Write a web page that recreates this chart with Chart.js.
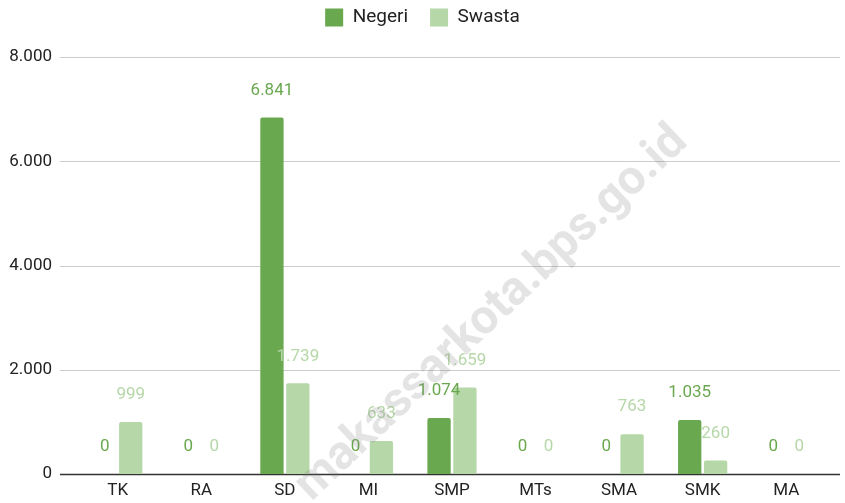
<!DOCTYPE html>
<html>
<head>
<meta charset="utf-8">
<script src="https://cdn.jsdelivr.net/npm/chart.js@4/dist/chart.umd.min.js"></script>
<style>
  html, body { margin: 0; padding: 0; background: #fff; }
  #wrap { width: 845px; height: 503px; position: relative; }
</style>
</head>
<body>
<div id="wrap"><canvas id="c"></canvas></div>
<script>
const categories = ['TK', 'RA', 'SD', 'MI', 'SMP', 'MTs', 'SMA', 'SMK', 'MA'];
const negeri = [0, 0, 6841, 0, 1074, 0, 0, 1035, 0];
const swasta = [999, 0, 1739, 633, 1659, 0, 763, 260, 0];
const seriesNames = ['Negeri', 'Swasta'];
const yTicks = [0, 2000, 4000, 6000, 8000];
const watermarkText = 'makassarkota.bps.go.id';

const FONT = 'Roboto, "Noto Sans", Arial, sans-serif';
const fmt = v => Math.round(v).toString().replace(/\B(?=(\d{3})+(?!\d))/g, '.');

const legendSpace = {
  id: 'legendSpace',
  beforeInit(chart) {
    const origFit = chart.legend.fit;
    chart.legend.fit = function () {
      origFit.bind(chart.legend)();
      this.height += 20;
    };
  },
  afterLayout(chart) {
    chart.legend.left += 8.5;
    chart.legend.right += 8.5;
  }
};

const gridPlugin = {
  id: 'extGrid',
  beforeDatasetsDraw(chart) {
    const ctx = chart.ctx, y = chart.scales.y;
    ctx.save();
    yTicks.forEach(v => {
      const py = Math.round(y.getPixelForValue(v)) + 0.5;
      ctx.beginPath();
      ctx.moveTo(60, py);
      ctx.lineTo(840, py);
      if (v === 0) { ctx.strokeStyle = '#333333'; ctx.lineWidth = 1.5; }
      else { ctx.strokeStyle = '#cccccc'; ctx.lineWidth = 1; }
      ctx.stroke();
    });
    ctx.restore();
  }
};

const labelPlugin = {
  id: 'valLabels',
  afterDatasetsDraw(chart) {
    const ctx = chart.ctx;
    ctx.save();
    ctx.font = '17px ' + FONT;
    ctx.textAlign = 'center';
    ctx.textBaseline = 'middle';
    chart.data.datasets.forEach((ds, i) => {
      const meta = chart.getDatasetMeta(i);
      ctx.fillStyle = ds.labelColor;
      meta.data.forEach((bar, j) => {
        ctx.fillText(fmt(ds.data[j]), bar.x, bar.y - 27);
      });
    });
    ctx.restore();
  }
};

const watermarkPlugin = {
  id: 'watermark',
  afterDraw(chart) {
    const ctx = chart.ctx;
    ctx.save();
    ctx.translate(492, 314);
    ctx.rotate(-43.5 * Math.PI / 180);
    ctx.font = 'bold 48px ' + FONT;
    ctx.textAlign = 'center';
    ctx.textBaseline = 'middle';
    ctx.fillStyle = 'rgba(120,120,120,0.2)';
    ctx.fillText(watermarkText, 0, 0);
    ctx.restore();
  }
};

new Chart(document.getElementById('c'), {
  type: 'bar',
  data: {
    labels: categories,
    datasets: [
      { label: seriesNames[0], data: negeri, backgroundColor: '#6aa84f', labelColor: '#6aa84f',
        borderRadius: 2, categoryPercentage: 0.62, barPercentage: 0.9 },
      { label: seriesNames[1], data: swasta, backgroundColor: '#b6d7a8', labelColor: '#b6d7a8',
        borderRadius: 2, categoryPercentage: 0.62, barPercentage: 0.9 }
    ]
  },
  options: {
    responsive: true,
    maintainAspectRatio: false,
    animation: false,
    layout: { padding: { left: 0, right: 17, top: -14, bottom: 0 } },
    plugins: {
      legend: {
        position: 'top',
        labels: {
          boxWidth: 18, boxHeight: 18, padding: 22,
          color: '#222222',
          font: { family: FONT, size: 19 }
        }
      },
      tooltip: { enabled: false }
    },
    scales: {
      x: {
        grid: { display: false, drawTicks: false },
        border: { display: false },
        ticks: { color: '#222222', font: { family: FONT, size: 17 }, padding: 7 },
        afterFit: s => { s.height = 29; }
      },
      y: {
        min: 0, max: 8000,
        grid: { display: false, drawTicks: false },
        border: { display: false },
        ticks: {
          stepSize: 2000, padding: 24, color: '#222222',
          font: { family: FONT, size: 17 },
          callback: v => fmt(v)
        },
        afterFit: s => { s.width = 76; s.paddingTop = 0; s.paddingBottom = 0; }
      }
    }
  },
  plugins: [legendSpace, gridPlugin, labelPlugin, watermarkPlugin]
});
</script>
</body>
</html>
